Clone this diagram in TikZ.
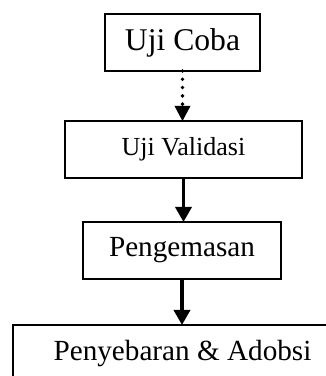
\documentclass[tikz,border=0pt]{standalone}
\usepackage{fontspec}
\setmainfont{Liberation Serif}
\usetikzlibrary{arrows.meta}
\def\pxl{0.411pt}
\tikzset{
  boxnode/.style={draw, line width=0.8pt, inner sep=0pt, outer sep=0pt, minimum height={57*\pxl}},
  solidarrow/.style={line width=1.45pt, -{Triangle[length=6.2pt,width=6.6pt]}},
  dotarrow/.style={line width=1.6pt, line cap=round, dash pattern=on 0pt off 3.4pt, -{Triangle[length=6.2pt,width=6.6pt,line cap=butt,line width=0pt]}}
}
\begin{document}
\begin{tikzpicture}[x=\pxl, y=-\pxl]
\useasboundingbox (0,0) rectangle (326,376);
\clip (0,0) rectangle (326,376);
\node[boxnode, minimum width={155*\pxl}, font=\fontsize{13}{15}\selectfont] (coba) at (182.5,42.5) {Uji Coba};
\node[boxnode, minimum width={237*\pxl}, font=\fontsize{10.7}{13}\selectfont] (val) at (183.5,149.5) {Uji Validasi};
\node[boxnode, minimum width={198*\pxl}, font=\fontsize{12}{14}\selectfont] (peng) at (182,250.5) {Pengemasan};
\node[boxnode, minimum width={339*\pxl}, font=\fontsize{12}{14}\selectfont] (peny) at (182.5,353.5) {Penyebaran \& Adobsi};
\draw[dotarrow] (coba.south) -- (coba.south |- val.north);
\draw[solidarrow] (val.south) -- (val.south |- peng.north);
\draw[solidarrow] (peng.south) -- (peng.south |- peny.north);
\end{tikzpicture}
\end{document}
